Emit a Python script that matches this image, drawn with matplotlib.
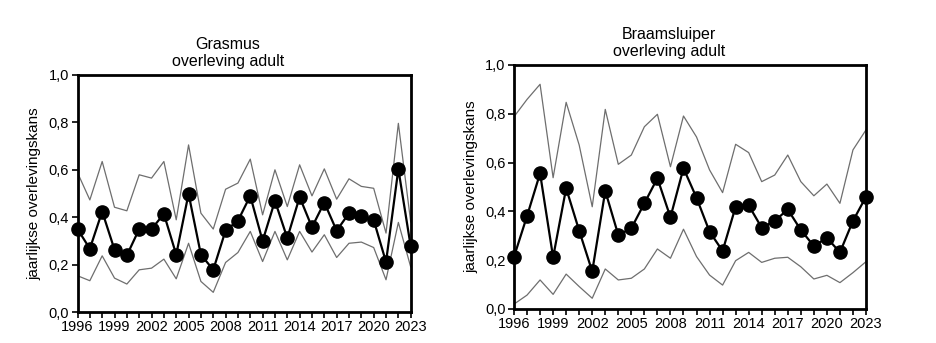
import numpy as np
import matplotlib.pyplot as plt
from matplotlib.ticker import FuncFormatter, MultipleLocator, FixedLocator

plt.rcParams['font.family'] = ['Liberation Sans', 'DejaVu Sans']

years = np.arange(1996, 2024)
year_ticks = list(range(1996, 2024, 3))

# Grasmus: estimate, upper and lower bound
gras_mid = [0.35, 0.267, 0.424, 0.263, 0.239, 0.35, 0.35, 0.414, 0.242, 0.499,
            0.242, 0.178, 0.344, 0.385, 0.49, 0.30, 0.469, 0.312, 0.485, 0.358,
            0.462, 0.343, 0.417, 0.407, 0.388, 0.211, 0.603, 0.277]
gras_hi = [0.588, 0.473, 0.635, 0.442, 0.427, 0.579, 0.565, 0.635, 0.389, 0.705,
           0.417, 0.35, 0.518, 0.544, 0.645, 0.41, 0.60, 0.445, 0.621, 0.49,
           0.604, 0.476, 0.562, 0.53, 0.522, 0.333, 0.796, 0.38]
gras_lo = [0.153, 0.132, 0.237, 0.143, 0.118, 0.178, 0.185, 0.223, 0.14, 0.29,
           0.129, 0.083, 0.209, 0.251, 0.34, 0.213, 0.34, 0.22, 0.34, 0.253,
           0.326, 0.23, 0.29, 0.295, 0.272, 0.136, 0.378, 0.19]

# Braamsluiper
braam_mid = [0.214, 0.381, 0.556, 0.212, 0.495, 0.321, 0.154, 0.484, 0.303, 0.331,
             0.433, 0.536, 0.376, 0.577, 0.456, 0.317, 0.238, 0.419, 0.425, 0.333,
             0.361, 0.408, 0.324, 0.258, 0.292, 0.232, 0.361, 0.46]
braam_hi = [0.788, 0.859, 0.921, 0.538, 0.847, 0.672, 0.419, 0.818, 0.593, 0.631,
            0.747, 0.798, 0.583, 0.791, 0.705, 0.57, 0.477, 0.675, 0.641, 0.522,
            0.549, 0.631, 0.522, 0.464, 0.512, 0.433, 0.652, 0.734]
braam_lo = [0.02, 0.057, 0.119, 0.06, 0.143, 0.092, 0.044, 0.164, 0.119, 0.126,
            0.164, 0.246, 0.208, 0.327, 0.215, 0.139, 0.098, 0.198, 0.232, 0.191,
            0.208, 0.212, 0.173, 0.123, 0.138, 0.108, 0.149, 0.194]

W, H = 936, 343
fig = plt.figure(figsize=(W / 100, H / 100), dpi=100)


def panel(rect, mid, hi, lo, title, title_x, title_y):
    x0, y0, x1, y1 = rect
    ax = fig.add_axes([x0 / W, 1 - y1 / H, (x1 - x0) / W, (y1 - y0) / H])
    ax.plot(years, hi, color='#6e6e6e', lw=0.9)
    ax.plot(years, lo, color='#6e6e6e', lw=0.9)
    ax.plot(years, mid, color='black', lw=1.6, marker='o', ms=9.5, clip_on=False, zorder=5)
    ax.set_xlim(1996, 2023)
    ax.set_ylim(0, 1)
    ax.xaxis.set_major_locator(FixedLocator(year_ticks))
    ax.xaxis.set_minor_locator(MultipleLocator(1))
    ax.yaxis.set_major_locator(MultipleLocator(0.2))
    ax.yaxis.set_major_formatter(FuncFormatter(lambda v, p: f"{v:.1f}".replace('.', ',')))
    ax.tick_params(which='both', direction='out', length=4, width=1.2, labelsize=10.5,
                   pad=2, colors='black')
    for s in ax.spines.values():
        s.set_linewidth(2)
    ax.set_ylabel('jaarlijkse overlevingskans', fontsize=11, labelpad=5)
    fig.text(title_x / W, 1 - title_y / H, title, ha='center', va='center',
             fontsize=11.5, linespacing=1.2)
    return ax


panel((77.5, 75, 410.7, 312), gras_mid, gras_hi, gras_lo,
      'Grasmus\noverleving adult', 228, 53)
panel((514, 65, 866, 309), braam_mid, braam_hi, braam_lo,
      'Braamsluiper\noverleving adult', 669, 43)

fig.savefig('out.png', dpi=100)
